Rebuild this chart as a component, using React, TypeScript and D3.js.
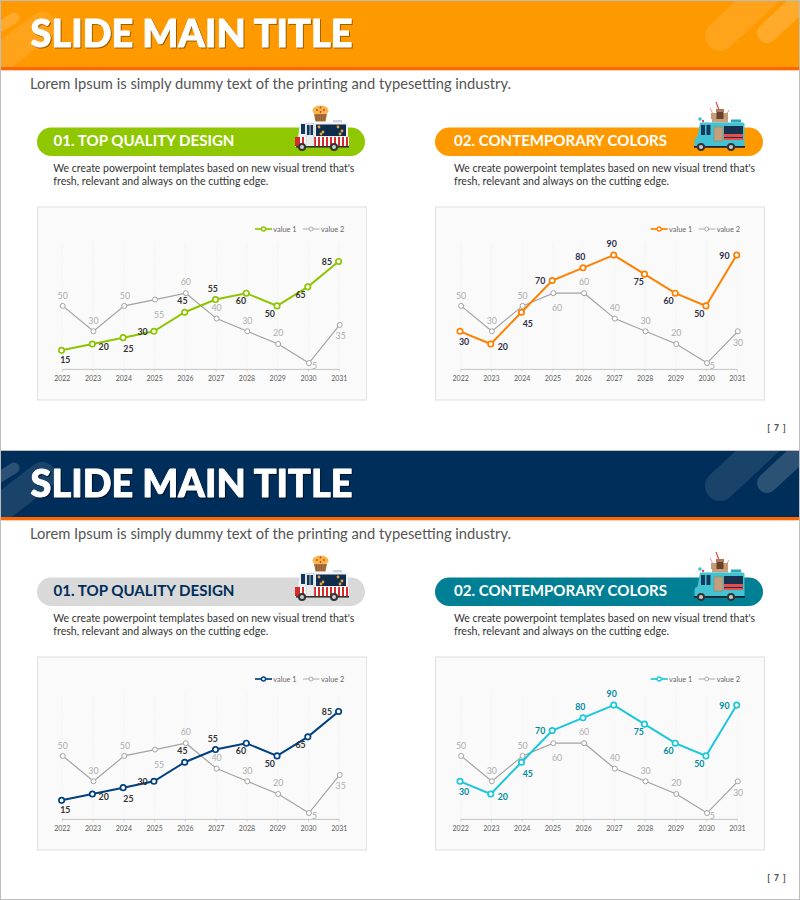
import React from "react";
import * as d3 from "d3";

const years = ["2022","2023","2024","2025","2026","2027","2028","2029","2030","2031"];
const leftValue1 = [15,20,25,30,45,55,60,50,65,85];
const leftValue2 = [50,30,50,55,60,40,30,20,5,35];
const rightValue1 = [30,20,45,70,80,90,75,60,50,90];
const rightValue2 = [50,30,50,60,60,40,30,20,5,30];
const legendLabels = ["value 1","value 2"];
const headings = ["01. TOP QUALITY DESIGN","02. CONTEMPORARY COLORS"];
const bodyLines = ["We create powerpoint templates based on new visual trend that's","fresh, relevant and always on the cutting edge."];

const FONT = "Lato, 'Open Sans', sans-serif";
const offL1: [number,number][] = [[3.7,9.7],[11.3,3],[5.3,11.3],[-11.3,.7],[-2.3,-11],[-2.7,-10.3],[-5.3,7.7],[-7.3,8],[-7.3,8.3],[-11.7,.7]];
const offL2: [number,number][] = [[0,-10.3],[0,-10.7],[.7,-10.3],[4,15.3],[0,-11],[0,-11],[0,-10.7],[0,-10.7],[5.7,3],[1,11.3]];
const offR1: [number,number][] = [[4,10.3],[12,2.7],[6.3,11.7],[-12,.7],[-2.7,-11],[-2,-10.7],[-5.7,8.3],[-6.7,7.7],[-6.7,8],[-12.3,.7]];
const offR2: [number,number][] = [[0,-10.3],[0,-10.7],[0,-10.3],[3.7,14.7],[0,-11],[0,-11],[0,-10.7],[0,-10.7],[5.3,3],[.3,11.3]];

const y = d3.scaleLinear().domain([0,100]).range([369.4,242.4]);
const GREY = "#a3a3a3";

function Chart({px,x0,x1,legendX,a,b,offA,offB,color,labelColor,lblOff}:{px:number;x0:number;x1:number;legendX:number;a:number[];b:number[];offA:[number,number][];offB:[number,number][];color:string;labelColor:string;lblOff:number}){
  const x = d3.scalePoint<string>().domain(years).range([x0,x1]);
  const line = d3.line<number>().x((_,i)=>x(years[i])!).y(v=>y(v));
  return <g fontFamily={FONT}>
    <rect x={px} y={207} width={329} height={193} fill="#fafafa" stroke="#e4e4e4" strokeWidth={1.2}/>
    {years.map(t=><line key={t} x1={x(t)} x2={x(t)} y1={243} y2={369} stroke="#efefef" strokeWidth={0.7} strokeDasharray="1.5 1.5"/>)}
    <line x1={x0} x2={x1} y1={y(0)} y2={y(0)} stroke="#bdbdbd" strokeWidth={0.9}/>
    {years.map(t=><g key={t}>
      <line x1={x(t)} x2={x(t)} y1={y(0)} y2={y(0)+2} stroke="#bdbdbd" strokeWidth={0.7}/>
      <text x={x(t)} y={380.5} fontSize={7} fill="#5c5c5c" textAnchor="middle">{t}</text>
    </g>)}
    <path d={line(b)!} transform="translate(0.4,0)" fill="none" stroke={GREY} strokeWidth={1.2}/>
    {b.map((v,i)=><circle key={i} cx={x(years[i])!+0.4} cy={y(v)} r={2.5} fill="#fff" stroke={GREY} strokeWidth={1}/>)}
    <path d={line(a)!} transform="translate(-0.7,0)" fill="none" stroke={color} strokeWidth={2}/>
    {a.map((v,i)=><circle key={i} cx={x(years[i])!-0.7} cy={y(v)} r={2.7} fill="#fff" stroke={color} strokeWidth={1.7}/>)}
    {b.map((v,i)=><text key={i} x={x(years[i])!+0.4+offB[i][0]} y={y(v)+offB[i][1]+lblOff} fontSize={8.8} fill="#adadad" textAnchor="middle">{v}</text>)}
    {a.map((v,i)=><text key={i} x={x(years[i])!-0.7+offA[i][0]} y={y(v)+offA[i][1]+lblOff} fontSize={8.8} fontWeight={700} fill={labelColor} textAnchor="middle">{v}</text>)}
    <line x1={legendX} x2={legendX+17} y1={229} y2={229} stroke={color} strokeWidth={1.7}/>
    <circle cx={legendX+8.5} cy={229} r={2} fill="#fff" stroke={color} strokeWidth={1.4}/>
    <text x={legendX+18.3} y={231.6} fontSize={7.4} fill="#666">{legendLabels[0]}</text>
    <line x1={legendX+48} x2={legendX+64.5} y1={229} y2={229} stroke={GREY} strokeWidth={0.9}/>
    <circle cx={legendX+56} cy={229} r={2} fill="#fff" stroke={GREY} strokeWidth={0.9}/>
    <text x={legendX+66} y={231.6} fontSize={7.4} fill="#666">{legendLabels[1]}</text>
  </g>;
}

function Wheel({cx,cy}:{cx:number;cy:number}){
  return <g><circle cx={cx} cy={cy} r={4} fill="#333"/><circle cx={cx} cy={cy} r={2} fill="#ccc"/></g>;
}

function MuffinTruck(){
  const stripes = d3.range(0,13);
  const dots = [[319,127],[323,132],[338,127],[342,131],[321,134],[340,134]];
  return <g>
    <ellipse cx={320.5} cy={110.5} rx={8} ry={5} fill="#f8b74a"/>
    <path d="M314 114 h13 l-1.5 7.5 h-10z" fill="#a8703c"/>
    {[316.5,319,321.5,324].map(v=><line key={v} x1={v} x2={v} y1={115} y2={121} stroke="#7e4e26" strokeWidth={0.5}/>)}
    <circle cx={317} cy={110} r={0.9} fill="#d33"/><circle cx={320.5} cy={107.5} r={0.9} fill="#d33"/><circle cx={324} cy={110} r={0.9} fill="#d33"/><circle cx={320.5} cy={112} r={0.9} fill="#d33"/>
    <rect x={333} y={120} width={9} height={2.5} fill="#cfd4d8"/>
    <path d="M300 122.5 h47 a1 1 0 0 1 1 1 v14 h-50 z" fill="#eef1f3"/>
    <rect x={295} y={137} width={54} height={10} fill="#fff"/>
    {stripes.map(i=><rect key={i} x={298+i*4} y={137} width={2} height={10} fill="#d52b2b"/>)}
    <rect x={295} y={137} width={3} height={9} fill="#d52b2b"/>
    <rect x={301} y={124} width={4} height={10} fill="#12375a"/>
    <rect x={306} y={123.5} width={8} height={23} fill="#e8eaec" stroke="#b8bec4" strokeWidth={0.5}/>
    <rect x={307} y={125} width={2.6} height={10} fill="#12375a"/><rect x={310.4} y={125} width={2.6} height={10} fill="#12375a"/>
    <rect x={316} y={124.5} width={30} height={11.5} fill="#0f2c4d"/>
    {dots.map((d,i)=><circle key={i} cx={d[0]} cy={d[1]} r={1.4} fill="#e9a23b"/>)}
    <rect x={296} y={146} width={53} height={1.6} fill="#333"/>
    <Wheel cx={302} cy={147}/><Wheel cx={334} cy={147}/>
  </g>;
}

function CoffeeTruck(){
  return <g>
    <line x1={716} y1={102} x2={719} y2={110} stroke="#e33d4e" strokeWidth={1.2}/>
    <line x1={710} y1={108} x2={713} y2={114} stroke="#e58a8a" strokeWidth={0.9}/>
    <line x1={729} y1={110} x2={726} y2={115} stroke="#e58a8a" strokeWidth={0.9}/>
    <rect x={716} y={109} width={8} height={3} fill="#a9795a"/>
    <rect x={711} y={113} width={17} height={6} fill="#c49b76"/>
    <rect x={716.5} y={112} width={7} height={10} fill="#6b4028"/>
    <rect x={712} y={119} width={16} height={3.5} fill="#c8a27c"/>
    <circle cx={700} cy={119} r={1.8} fill="#3fc1d0"/><circle cx={703} cy={121} r={1.2} fill="#d94b5a"/>
    <rect x={731} y={119.5} width={10} height={3} fill="#2aa6b6"/>
    <path d="M700 122.5 h43 a1.5 1.5 0 0 1 1.5 1.5 v22.5 h-50 v-6 q0 -2 1 -3 l2 -1 z" fill="#41c3d3"/>
    <rect x={701} y={125} width={4} height={10} fill="#14395d"/>
    <rect x={706.5} y={125} width={4} height={10} fill="#14395d"/>
    <rect x={714} y={127} width={9} height={14} fill="#c2a07d" stroke="#9a7a5a" strokeWidth={0.5}/>
    <rect x={724} y={126} width={19} height={14} fill="#16324f"/>
    <rect x={724} y={134} width={19} height={3} fill="#ea4b4b"/>
    <rect x={724} y={138} width={19} height={2} fill="#ea4b4b"/>
    <rect x={694} y={146} width={51} height={1.8} fill="#223"/>
    <Wheel cx={701} cy={147}/><Wheel cx={731} cy={147}/>
  </g>;
}

function Slide({dy,id,head,strip,shadow,deco,pillL,pillR,pillLText,c1,c2,lbl1,lbl2}:{dy:number;id:string;head:string;strip:string;shadow:string;deco:number;pillL:string;pillR:string;pillLText:string;c1:string;c2:string;lbl1:string;lbl2:string}){
  return <g transform={`translate(0,${dy})`} fontFamily={FONT}>
    <defs><clipPath id={id}><rect x={1} y={1} width={798} height={66}/></clipPath></defs>
    <rect x={1} y={1} width={798} height={66} fill={head}/>
    <rect x={1} y={67} width={798} height={3.3} fill={strip}/>
    <g clipPath={`url(#${id})`} stroke="#fff" strokeLinecap="round" fill="none">
      <line x1={720} y1={36} x2={780} y2={-20} strokeWidth={30} strokeOpacity={deco}/>
      <line x1={767} y1={33} x2={810} y2={-7} strokeWidth={20} strokeOpacity={deco*1.7}/>
      <line x1={-15} y1={70} x2={42} y2={26} strokeWidth={28} strokeOpacity={deco}/>
      <line x1={-10} y1={33} x2={14} y2={18} strokeWidth={11} strokeOpacity={deco*1.7}/>
    </g>
    <text x={30.5} y={46.6} fontSize={37} fontWeight={900} fill="#fff" stroke="#fff" strokeWidth={0.9} strokeLinejoin="round" textLength={322} lengthAdjust="spacingAndGlyphs" style={{filter:`drop-shadow(1.2px 1.6px 0 ${shadow})`}}>SLIDE MAIN TITLE</text>
    <text x={30} y={88.5} fontSize={15} fill="#555" textLength={481} lengthAdjust="spacingAndGlyphs">Lorem Ipsum is simply dummy text of the printing and typesetting industry.</text>

    <rect x={37} y={127.5} width={328} height={28.5} rx={14.25} fill={pillL}/>
    <rect x={435} y={127.5} width={328} height={28.5} rx={14.25} fill={pillR}/>
    <text x={53.5} y={145.7} fontSize={15.5} fontWeight={700} fill={pillLText} textLength={181} lengthAdjust="spacingAndGlyphs">{headings[0]}</text>
    <text x={454} y={145.7} fontSize={15.5} fontWeight={700} fill="#fff" textLength={213} lengthAdjust="spacingAndGlyphs">{headings[1]}</text>
    <MuffinTruck/>
    <CoffeeTruck/>
    {[53.3,454].map(x=><g key={x} fontSize={10.5} fill="#333">
      <text x={x} y={172} textLength={301} lengthAdjust="spacingAndGlyphs">{bodyLines[0]}</text>
      <text x={x} y={185} textLength={215} lengthAdjust="spacingAndGlyphs">{bodyLines[1]}</text>
    </g>)}
    <Chart px={37.5} x0={62.3} x1={339.3} legendX={255} a={leftValue1} b={leftValue2} offA={offL1} offB={offL2} color={c1} labelColor={lbl1} lblOff={3}/>
    <Chart px={435.5} x0={460.7} x1={737.4} legendX={650.7} a={rightValue1} b={rightValue2} offA={offR1} offB={offR2} color={c2} labelColor={lbl2} lblOff={3}/>
    <text x={777} y={431} fontSize={8.5} fontWeight={900} fill="#555" textAnchor="middle" letterSpacing={1}>[ 7 ]</text>
  </g>;
}

export default function App(){
  return <svg width={800} height={900} viewBox="0 0 800 900" style={{position:"absolute",left:0,top:0,display:"block",background:"#fff"}}>
    <Slide dy={0} id="c1" head="#ff9900" strip="#ff6600" shadow="#9a5f00" deco={0.1} pillL="#8fc800" pillR="#ff9900" pillLText="#fff" c1="#8fc400" c2="#ff8000" lbl1="#333333" lbl2="#2e2e48"/>
    <Slide dy={450} id="c2" head="#002e5a" strip="#ff6600" shadow="#00142b" deco={0.1} pillL="#d9d9d9" pillR="#007f95" pillLText="#002e5a" c1="#004080" c2="#1cc7dc" lbl1="#333333" lbl2="#008a9e"/>
    <rect x={0.5} y={0.5} width={799} height={899} fill="none" stroke="#bdbdbd" strokeWidth={1}/>
    <line x1={0} x2={800} y1={450.5} y2={450.5} stroke="#bdbdbd" strokeWidth={1}/>
  </svg>;
}
